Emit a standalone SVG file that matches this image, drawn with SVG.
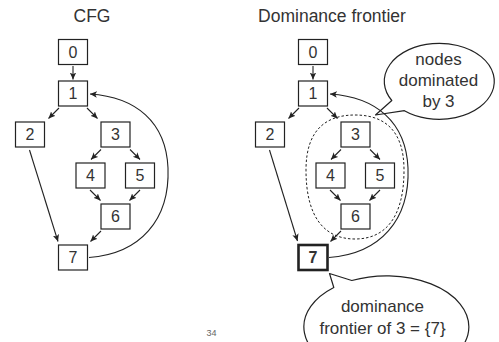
<svg xmlns="http://www.w3.org/2000/svg" width="499" height="342" viewBox="0 0 499 342">
  <defs>
    <marker id="arrow" markerUnits="userSpaceOnUse" markerWidth="9" markerHeight="8" refX="7" refY="3.5" orient="auto">
      <path d="M0,0.3 L7,3.5 L0,6.7 L1.8,3.5 Z" fill="#222"/>
    </marker>
    <style>
      .box { fill: #fff; stroke: #222; stroke-width: 1.2; }
      .box.bold { stroke-width: 2.6; }
      .num { font-family: "Liberation Sans", Arial, sans-serif; font-size: 16px; fill: #333; text-anchor: middle; }
      .num.bold { font-weight: bold; }
      .title { font-family: "Liberation Sans", Arial, sans-serif; font-size: 17.5px; fill: #333; text-anchor: middle; }
      .label { font-family: "Liberation Sans", Arial, sans-serif; font-size: 17px; fill: #333; text-anchor: middle; }
      .edge { fill: none; stroke: #222; stroke-width: 1.1; marker-end: url(#arrow); }
      .bubble { fill: none; stroke: #222; stroke-width: 1.2; stroke-linejoin: round; }
      .region { fill: none; stroke: #222; stroke-width: 1; stroke-dasharray: 2.5 2; }
      .page { font-family: "Liberation Sans", Arial, sans-serif; font-size: 9px; fill: #666; text-anchor: middle; }
    </style>
  </defs>
  <rect width="499" height="342" fill="#fff"/>

  <!-- titles -->
  <text class="title" x="92" y="22">CFG</text>
  <text class="title" x="332" y="22">Dominance frontier</text>

  <!-- ===== Left: CFG ===== -->
  <g id="cfg">
    <g id="cfg-edges">
      <path class="edge" d="M73,66 L73,79.5"/>
      <path class="edge" d="M59,108 L48.5,118.5"/>
      <path class="edge" d="M87,108 L97.5,118.5"/>
      <path class="edge" d="M101,149.5 L91,159.5"/>
      <path class="edge" d="M130,149.5 L140,159.5"/>
      <path class="edge" d="M90,190 L100.5,200.5"/>
      <path class="edge" d="M140,190 L129.5,200.5"/>
      <path class="edge" d="M101,231 L90.5,241.5"/>
      <path class="edge" d="M29.5,150 L58,241.5"/>
      <path class="edge" d="M89,257.5 C140,254 170,220 168,168 C166,122 136,97 90,94"/>
    </g>
    <g id="cfg-n0"><rect class="box" x="58.5" y="39.5" width="29" height="25"/><text class="num" x="73" y="57.8">0</text></g>
    <g id="cfg-n1"><rect class="box" x="58.5" y="81" width="29" height="25"/><text class="num" x="73" y="99.3">1</text></g>
    <g id="cfg-n2"><rect class="box" x="15.5" y="122" width="29" height="25"/><text class="num" x="30" y="140.3">2</text></g>
    <g id="cfg-n3"><rect class="box" x="101" y="122" width="29" height="25"/><text class="num" x="115.5" y="140.3">3</text></g>
    <g id="cfg-n4"><rect class="box" x="76" y="163" width="29" height="25"/><text class="num" x="90.5" y="181.3">4</text></g>
    <g id="cfg-n5"><rect class="box" x="125.5" y="163" width="29" height="25"/><text class="num" x="140" y="181.3">5</text></g>
    <g id="cfg-n6"><rect class="box" x="101" y="204" width="29" height="25"/><text class="num" x="115.5" y="222.3">6</text></g>
    <g id="cfg-n7"><rect class="box" x="58.5" y="245" width="29" height="25"/><text class="num" x="73" y="263.3">7</text></g>
  </g>

  <!-- ===== Right: dominance frontier ===== -->
  <g id="df" transform="translate(240,0)">
    <!-- region of nodes dominated by 3 -->
    <g id="df-region">
      <path class="region" d="M115,115 C142,115 164,128 164,170 C164,218 145,239 115,239 C85,239 66,218 66,170 C66,128 88,115 115,115 Z"/>
    </g>
    <g id="df-edges">
      <path class="edge" d="M73,66 L73,79.5"/>
      <path class="edge" d="M59,108 L48.5,118.5"/>
      <path class="edge" d="M87,108 L97.5,118.5"/>
      <path class="edge" d="M101,149.5 L91,159.5"/>
      <path class="edge" d="M130,149.5 L140,159.5"/>
      <path class="edge" d="M90,190 L100.5,200.5"/>
      <path class="edge" d="M140,190 L129.5,200.5"/>
      <path class="edge" d="M101,231 L90.5,241.5"/>
      <path class="edge" d="M29.5,150 L57.5,241"/>
      <path class="edge" d="M89,257.5 C140,254 170,220 168,168 C166,122 136,97 90,94"/>
    </g>
    <g id="df-n0"><rect class="box" x="58.5" y="39.5" width="29" height="25"/><text class="num" x="73" y="57.8">0</text></g>
    <g id="df-n1"><rect class="box" x="58.5" y="81" width="29" height="25"/><text class="num" x="73" y="99.3">1</text></g>
    <g id="df-n2"><rect class="box" x="15.5" y="122" width="29" height="25"/><text class="num" x="30" y="140.3">2</text></g>
    <g id="df-n3"><rect class="box" x="101" y="122" width="29" height="25"/><text class="num" x="115.5" y="140.3">3</text></g>
    <g id="df-n4"><rect class="box" x="76" y="163" width="29" height="25"/><text class="num" x="90.5" y="181.3">4</text></g>
    <g id="df-n5"><rect class="box" x="125.5" y="163" width="29" height="25"/><text class="num" x="140" y="181.3">5</text></g>
    <g id="df-n6"><rect class="box" x="101" y="204" width="29" height="25"/><text class="num" x="115.5" y="222.3">6</text></g>
    <g id="df-n7"><rect class="box bold" x="58.5" y="245" width="29" height="25"/><text class="num bold" x="73" y="263.3">7</text></g>
  </g>

  <!-- callout: nodes dominated by 3 -->
  <g id="callout-dominated">
    <path class="bubble" d="M404.4,110.7 A55,38 0 1 0 391.8,100.5 L375.5,115 Z"/>
    <text class="label" x="438.5" y="64.5">nodes</text>
    <text class="label" x="438.5" y="86">dominated</text>
    <text class="label" x="438.5" y="107">by 3</text>
  </g>

  <!-- callout: dominance frontier of 3 -->
  <g id="callout-frontier">
    <path class="bubble" d="M351.8,280.5 A82.5,51 0 1 1 333.8,287.5 L329.5,273.5 Z"/>
    <text class="label" x="382.5" y="312">dominance</text>
    <text class="label" x="382.5" y="333.5">frontier of 3 = {7}</text>
  </g>

  <!-- page number -->
  <text class="page" x="211.5" y="336">34</text>
</svg>
